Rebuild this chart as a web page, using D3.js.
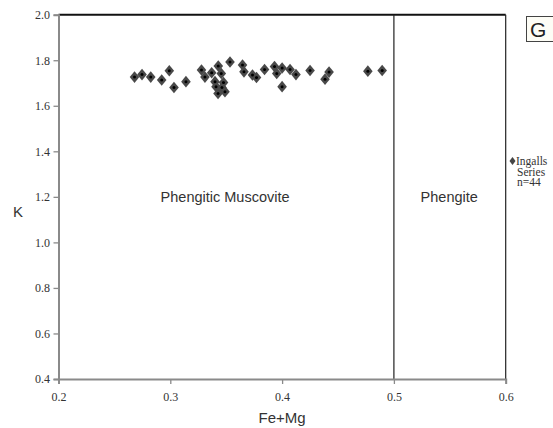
<!DOCTYPE html>
<html>
<head>
<meta charset="utf-8">
<script src="https://cdn.jsdelivr.net/npm/d3@7/dist/d3.min.js"></script>
<style>
  html, body { margin: 0; padding: 0; background: #fff; }
  svg { display: block; }
</style>
</head>
<body>
<svg id="chart" width="553" height="428"></svg>
<script>
// Fe+Mg vs K (apfu) for white mica analyses
const feMg = [0.268, 0.2747, 0.2825, 0.2923, 0.2991, 0.3033, 0.3140, 0.3279, 0.3310, 0.3370,
              0.3429, 0.3456, 0.3534, 0.3400, 0.3476, 0.3409, 0.3427, 0.3489, 0.3462, 0.3646,
              0.3659, 0.3735, 0.3771, 0.3843, 0.3932, 0.3952, 0.4000, 0.4000, 0.4071, 0.4124,
              0.4250, 0.4384, 0.4420, 0.4767, 0.4895];
const kVal = [1.726, 1.737, 1.726, 1.713, 1.754, 1.680, 1.706, 1.757, 1.726, 1.745,
              1.775, 1.742, 1.792, 1.706, 1.702, 1.684, 1.654, 1.662, 1.680, 1.779,
              1.749, 1.735, 1.724, 1.759, 1.772, 1.742, 1.766, 1.684, 1.759, 1.737,
              1.755, 1.717, 1.748, 1.752, 1.755];
const xTicks = [0.2, 0.3, 0.4, 0.5, 0.6];
const yTicks = [0.4, 0.6, 0.8, 1.0, 1.2, 1.4, 1.6, 1.8, 2.0];
const boundary = 0.5;
const fieldLabels = [
  { text: "Phengitic Muscovite", x: 0.3490, y: 1.2 },
  { text: "Phengite", x: 0.5495, y: 1.2 }
];
const legendLines = ["Ingalls", "Series", "n=44"];
const panelLetter = "G";

const svg = d3.select("#chart");
const margin = { left: 58.5, right: 47.3, top: 14.7, bottom: 49 };
const W = 553, H = 428;

const x = d3.scaleLinear().domain([0.2, 0.6]).range([margin.left, W - margin.right]);
const y = d3.scaleLinear().domain([0.4, 2.0]).range([H - margin.bottom, margin.top]);

const defs = svg.append("defs");
defs.append("filter").attr("id", "soft")
  .attr("x", "-50%").attr("y", "-50%").attr("width", "200%").attr("height", "200%")
  .append("feGaussianBlur").attr("stdDeviation", 0.7);

const serif = "'Liberation Serif', 'DejaVu Serif', serif";
const sans = "'Liberation Sans', Arial, sans-serif";

// frame: top and right edges
svg.append("line")
  .attr("x1", x(0.2)).attr("x2", x(0.6)).attr("y1", y(2.0)).attr("y2", y(2.0))
  .attr("stroke", "#111").attr("stroke-width", 2);
svg.append("line")
  .attr("x1", x(0.6)).attr("x2", x(0.6)).attr("y1", y(2.0)).attr("y2", y(0.4))
  .attr("stroke", "#222").attr("stroke-width", 1.2);

// field boundary
svg.append("line")
  .attr("x1", x(boundary)).attr("x2", x(boundary)).attr("y1", y(2.0)).attr("y2", y(0.4))
  .attr("stroke", "#222").attr("stroke-width", 1.2);

// axes
const xAxis = svg.append("g")
  .attr("transform", `translate(0,${y(0.4)})`)
  .call(d3.axisBottom(x).tickValues(xTicks).tickFormat(d3.format(".1f")).tickSizeOuter(0).tickSize(5));
const yAxis = svg.append("g")
  .attr("transform", `translate(${x(0.2)},0)`)
  .call(d3.axisLeft(y).tickValues(yTicks).tickFormat(d3.format(".1f")).tickSizeOuter(0).tickSize(5));

[xAxis, yAxis].forEach(g => {
  g.select(".domain").attr("stroke", "#8a8a8a").attr("stroke-width", 2);
  g.selectAll(".tick line").attr("stroke", "#8a8a8a").attr("stroke-width", 1.3);
  g.selectAll(".tick text").attr("fill", "#333").attr("font-family", serif).attr("font-size", 12);
});
xAxis.selectAll(".tick text").attr("dy", "1.2em");
yAxis.selectAll(".tick text").attr("dx", "-0.05em");

// axis titles
svg.append("text").text("Fe+Mg")
  .attr("x", (x(0.2) + x(0.6)) / 2).attr("y", 423)
  .attr("text-anchor", "middle").attr("font-family", sans).attr("font-size", 15).attr("fill", "#333");
svg.append("text").text("K")
  .attr("x", 18).attr("y", 217)
  .attr("text-anchor", "middle").attr("font-family", sans).attr("font-size", 15).attr("fill", "#333");

// field names
svg.selectAll(".field").data(fieldLabels).join("text")
  .attr("class", "field")
  .attr("x", d => x(d.x)).attr("y", d => y(d.y) + 5)
  .attr("text-anchor", "middle").attr("font-family", sans).attr("font-size", 14.5).attr("fill", "#333")
  .text(d => d.text);

// diamond markers
function diamond(cx, cy, hw, hh) {
  return `M${cx},${cy - hh}L${cx + hw},${cy}L${cx},${cy + hh}L${cx - hw},${cy}Z`;
}
const pts = feMg.map((v, i) => ({ fx: v, k: kVal[i] }));
const marks = svg.append("g").attr("filter", "url(#soft)");
marks.selectAll("path").data(pts).join("path")
  .attr("d", d => diamond(x(d.fx), y(d.k), 4.8, 5.8))
  .attr("fill", "#4a4a4a");
marks.selectAll("circle").data(pts).join("circle")
  .attr("cx", d => x(d.fx)).attr("cy", d => y(d.k)).attr("r", 1.5)
  .attr("fill", "#000");

// panel letter box
svg.append("rect")
  .attr("x", 526.5).attr("y", 16.5).attr("width", 40).attr("height", 25)
  .attr("fill", "#fdfdf6").attr("stroke", "#444").attr("stroke-width", 1);
svg.append("text").text(panelLetter)
  .attr("x", 530).attr("y", 37)
  .attr("font-family", sans).attr("font-size", 21).attr("fill", "#222");

// legend
const lg = svg.append("g");
lg.append("path").attr("d", diamond(512.5, 161, 3, 4)).attr("fill", "#444").attr("filter", "url(#soft)");
lg.selectAll("text").data(legendLines).join("text")
  .attr("x", (d, i) => i === 0 ? 516 : 517)
  .attr("y", (d, i) => 165 + i * 10.5)
  .attr("font-family", serif).attr("font-size", 11.5).attr("fill", "#333")
  .text(d => d);
</script>
</body>
</html>
